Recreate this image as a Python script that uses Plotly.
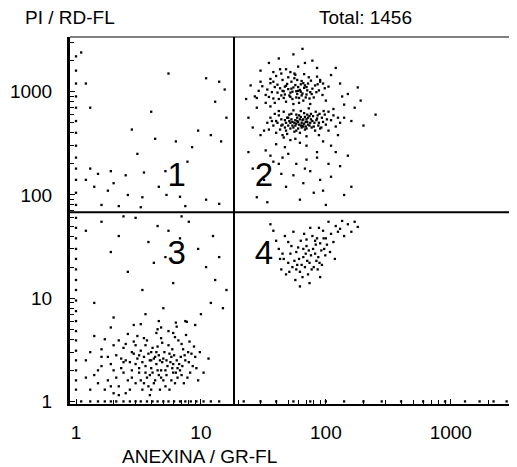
import plotly.graph_objects as go

# ---- data (ANEXINA / GR-FL  vs  PI / RD-FL) ----
q2_upper = [(34,1050),(41,980),(47,1120),(52,890),(58,1010),(63,1180),(45,1300),(38,860),(55,760),(70,940),
(29,1020),(36,1210),(44,920),(50,1060),(61,870),(67,1090),(75,990),(82,1150),(40,1420),(48,800),
(53,1250),(59,950),(66,820),(72,1200),(88,1030),(33,930),(39,1110),(46,1010),(51,920),(57,1160),
(62,1040),(69,880),(78,1070),(94,930),(43,1080),(49,1190),(54,1000),(60,1110),(65,960),(71,1030),
(37,990),(42,850),(56,1350),(64,1270),(80,880),(86,1180),(31,1130),(35,890),(47,940),(53,1070),
(58,880),(63,1000),(68,1150),(74,860),(98,1080),(44,1500),(50,1380),(57,1460),(39,780),(61,780),
(45,1020),(48,1140),(52,980),(55,1100),(60,1020),(66,1210),(70,1110),(76,1280),(84,990),(105,1120),
(41,1170),(36,1330),(59,1300),(73,1380),(90,1250),(33,780),(64,920),(77,950),(46,870),(54,850),
(30,1250),(43,1650),(52,1550),(67,1480),(85,1400),(38,1250),(95,1200),(28,870)]

q2_lower = [(40,520),(45,480),(50,560),(55,450),(60,510),(65,470),(70,540),(48,420),(53,610),(58,490),
(63,570),(68,430),(75,500),(80,460),(85,550),(42,590),(47,450),(52,500),(57,530),(62,400),
(67,620),(72,480),(78,520),(90,440),(95,510),(38,470),(44,540),(49,390),(54,470),(59,560),
(64,500),(69,460),(74,580),(82,420),(100,480),(36,560),(43,430),(51,520),(56,410),(61,480),
(66,540),(71,510),(77,450),(86,590),(110,530),(46,640),(55,660),(63,650),(73,690),(83,640),
(41,500),(50,470),(57,470),(60,440),(65,530),(70,440),(76,610),(88,500),(120,460),(35,430),
(39,610),(45,380),(52,440),(58,600),(62,540),(68,570),(74,470),(81,500),(93,560),(105,420),
(48,500),(53,540),(59,520),(64,450),(67,490),(72,560),(79,580),(87,470),(98,600),(130,500),
(44,470),(49,560),(54,510),(61,590),(66,460),(71,600),(84,530),(92,450),(56,500),(63,470),
(37,520),(42,650),(47,530),(51,600),(69,510),(76,540),(89,610),(102,540),(115,590),(58,420),
(34,500),(46,360),(57,350),(70,370),(88,380),(40,400),(96,650),(125,560)]

q2_halo = [(25,1150),(28,700),(24,560),(30,1600),(32,420),(27,900),(35,1900),(42,2100),(55,2300),(68,1900),
(85,1700),(110,1450),(130,1200),(150,950),(170,700),(140,560),(125,380),(95,330),(70,300),(52,340),
(40,310),(33,270),(60,1750),(78,2000),(48,1650),(38,1550),(100,820),(115,680),(160,520),(200,470),
(250,600),(45,230),(85,260),(110,300),(140,750),(180,1100),(120,1700),(65,2600),(30,380),(26,450),
(23,850),(36,720),(90,1300),(75,760),(105,640),(135,900),(190,820),(62,320),(47,290),(56,1500)]

q2_sparse = [(26,180),(32,140),(38,210),(44,160),(50,250),(58,200),(66,130),(75,170),(85,230),(95,110),
(110,150),(130,190),(160,120),(28,95),(36,240),(48,120),(62,90),(80,105),(100,80),(120,260),
(55,155),(70,220),(90,140),(140,100),(24,260),(42,200),(68,180),(105,200),(150,240),(34,85)]

q4_cells = [(38,45),(42,30),(46,24),(50,35),(54,20),(58,28),(62,18),(66,25),(70,32),(74,22),
(78,40),(82,27),(86,19),(90,34),(95,45),(100,38),(48,17),(56,23),(64,21),(72,17),
(76,26),(84,23),(92,29),(60,31),(68,20),(52,27),(44,19),(40,36),(88,48),(110,42),
(120,50),(130,47),(150,52),(170,55),(180,49),(105,55),(97,30),(80,20),(65,16),(57,15),
(53,32),(61,24),(69,27),(73,29),(77,19),(83,33),(87,25),(93,21),(99,26),(63,36),
(47,40),(55,44),(67,42),(75,48),(85,38),(102,33),(115,35),(125,44),(140,40),(108,28),
(59,21),(71,23),(79,30),(89,22),(96,38),(66,30),(58,19),(50,22),(45,27),(36,52),
(135,56),(160,44),(118,24),(74,14),(62,13),(90,16),(82,36),(70,37),(51,18),(43,24)]

q3_dense = [(1.5,2.0),(1.8,1.6),(2.1,2.8),(2.4,1.9),(2.7,2.4),(3.0,1.5),(3.3,3.1),(3.6,2.2),(3.9,1.8),(4.2,2.6),
(4.5,3.4),(4.8,2.0),(5.2,1.4),(5.6,2.9),(6.0,2.3),(6.5,1.7),(7.0,3.6),(7.5,2.5),(8.2,1.9),(9.0,2.7),
(1.3,1.3),(1.6,3.2),(1.9,2.3),(2.2,1.4),(2.5,3.6),(2.8,1.7),(3.1,2.6),(3.4,1.3),(3.7,3.9),(4.0,2.1),
(4.3,1.6),(4.6,2.8),(4.9,3.7),(5.4,2.2),(5.8,1.6),(6.2,4.2),(6.8,2.0),(7.3,1.5),(7.9,3.0),(8.6,2.2),
(1.2,2.5),(1.4,1.8),(1.7,4.0),(2.0,1.2),(2.3,2.1),(2.6,4.5),(2.9,2.9),(3.2,1.9),(3.5,2.7),(3.8,1.4),
(4.1,3.3),(4.4,2.3),(4.7,1.3),(5.0,2.6),(5.5,4.8),(5.9,3.2),(6.3,1.9),(6.9,2.7),(7.6,4.4),(8.8,3.4),
(1.5,1.5),(1.8,2.7),(2.1,1.7),(2.4,3.3),(2.7,1.3),(3.0,2.3),(3.3,1.6),(3.6,3.5),(3.9,2.5),(4.2,1.5),
(4.5,2.0),(4.8,4.1),(5.3,1.8),(5.7,2.4),(6.1,2.8),(6.6,3.9),(7.1,2.2),(7.8,1.7),(8.4,2.9),(9.5,1.6),
(1.3,3.0),(1.6,2.2),(1.9,1.4),(2.2,3.9),(2.5,2.5),(2.8,2.0),(3.1,4.3),(3.4,2.4),(3.7,1.7),(4.0,3.0),
(4.3,2.7),(4.6,1.8),(4.9,2.4),(5.1,3.0),(5.6,1.3),(6.0,1.9),(6.4,2.5),(7.2,3.2),(8.0,2.4),(9.2,2.1),
(1.4,4.3),(1.7,1.3),(2.0,3.5),(2.3,2.6),(2.6,1.6),(2.9,3.8),(3.2,2.8),(3.5,1.5),(3.8,2.9),(4.1,1.9),
(4.4,4.6),(4.7,2.5),(5.2,2.0),(5.8,2.7),(6.2,1.5),(6.7,2.3),(7.4,2.8),(8.1,3.8),(1.2,1.7),(2.5,1.2),
(3.0,3.5),(3.5,4.1),(4.0,1.3),(4.5,5.0),(5.0,1.6),(5.5,3.5),(6.0,4.6),(6.5,2.1),(7.0,1.8),(1.6,2.7),
(2.0,2.0),(2.4,2.4),(2.8,3.0),(3.2,2.1),(3.6,1.9),(4.0,2.5),(4.4,3.0),(4.8,1.7),(5.3,2.5),(5.9,2.1),
(1.9,5.2),(3.3,5.6),(4.6,6.0),(6.4,5.3),(7.7,5.9),(9.8,3.0),(10.5,1.9),(11.5,2.6),(2.2,1.15),(3.9,1.15)]

q3_sparse = [(1.6,55),(2.2,40),(3.0,60),(3.8,35),(4.5,50),(5.5,45),(6.8,38),(8.0,55),(9.5,30),(11,20),
(13,15),(15,8),(14,25),(12,9),(10,7),(1.9,28),(2.6,18),(3.4,12),(4.2,22),(5.0,8),
(6.0,14),(7.5,6.0),(9.0,5.5),(1.4,9),(2.0,6.5),(2.9,5.5),(3.6,7),(4.8,5.2),(6.3,5.8),(16,12),
(12.5,40),(7.0,62),(5.2,25),(2.4,62),(1.2,45)]

q1_cells = [(1.1,2400),(1.2,1200),(1.3,700),(5.5,1500),(11,1350),(14,1250),(15.5,1050),(13,800),(4.0,640),
(9.5,420),(12,380),(14.5,330),(16,560),(2.8,430),(4.3,350),(6.3,330),(8.5,290),(3.1,250),(7.8,210),
(1.3,180),(1.5,160),(1.9,170),(2.5,155),(3.5,165),(5.2,170),(1.4,120),(1.8,110),(2.6,100),(3.4,95),
(4.6,120),(5.3,100),(6.8,96),(1.6,80),(2.2,78),(3.3,76),(7.5,78),(11,90),(14,82),(1.2,140),(2.0,130)]

bottom_row = [1.1,1.3,1.5,1.7,1.9,2.1,2.4,2.7,3.0,3.3,3.7,4.1,4.5,5.0,5.5,6.1,6.8,7.5,8.3,9.2,
10.5,12,14,22,30,40,55,75,100,140,200,280,400,600,900,1300,1700,2200,2800]
left_col = [1.3,1.6,2.0,2.5,3.1,3.9,4.8,6,7.5,9.5,12,15,19,24,30,38,48,60,80,105,140,180,230,300,
400,520,700,900,1200,1600,2200]

gate_x = 18.4     # vertical quadrant threshold (GR-FL)
gate_y = 68       # horizontal quadrant threshold (RD-FL)
axis_lo = 0.85
axis_hi = 4000

quad_labels = ["1", "2", "3", "4"]
quad_x = [6.4, 32, 6.4, 32]
quad_y = [146, 146, 25.6, 25.6]

tick_vals = [1, 10, 100, 1000]
tick_text = ["1", "10", "100", "1000"]

# ---- build ----
xs, ys = [], []
for grp in (q2_upper, q2_lower, q2_halo, q2_sparse, q4_cells, q3_dense, q3_sparse, q1_cells):
    for a, b in grp:
        xs.append(a); ys.append(b)
for a in bottom_row:
    xs.append(a); ys.append(1)
for b in left_col:
    xs.append(1); ys.append(b)

fig = go.Figure()
fig.add_trace(go.Scatter(x=xs, y=ys, mode="markers",
                         marker=dict(symbol="square", size=2.3, color="black", line=dict(width=0)),
                         hoverinfo="skip"))
fig.add_trace(go.Scatter(x=[gate_x, gate_x], y=[axis_lo, axis_hi], mode="lines",
                         line=dict(color="black", width=2), hoverinfo="skip"))
fig.add_trace(go.Scatter(x=[axis_lo, axis_hi], y=[gate_y, gate_y], mode="lines",
                         line=dict(color="black", width=2), hoverinfo="skip"))
fig.add_trace(go.Scatter(x=quad_x, y=quad_y, mode="text", text=quad_labels,
                         textfont=dict(family="Liberation Sans, Arial", size=33, color="black"),
                         textposition="middle center", hoverinfo="skip"))

font = dict(family="Liberation Sans, Arial", size=19, color="black")
fig.update_layout(
    width=509, height=459,
    margin=dict(l=62, r=0, t=29, b=63),
    paper_bgcolor="white", plot_bgcolor="white",
    showlegend=False,
    font=font,
    xaxis=dict(type="log", range=[-0.048, 3.53], showgrid=False, zeroline=False,
               tickvals=tick_vals, ticktext=tick_text, ticks="inside", ticklen=5,
               tickcolor="black", showline=True, linecolor="black", linewidth=2,
               mirror=False, ticklabelstandoff=10,
               minor=dict(ticks="inside", ticklen=4, tickcolor="black", dtick="D1", showgrid=False)),
    yaxis=dict(type="log", range=[-0.025, 3.53], showgrid=False, zeroline=False,
               tickvals=tick_vals, ticktext=tick_text, ticks="inside", ticklen=5,
               tickcolor="black", showline=True, linecolor="black", linewidth=3,
               mirror=False, ticklabelstandoff=11,
               minor=dict(ticks="inside", ticklen=4, tickcolor="black", dtick="D1", showgrid=False)),
    shapes=[dict(type="line", xref="paper", yref="paper", x0=0, x1=1, y0=1, y1=1,
                 line=dict(color="black", width=1))],
    annotations=[
        dict(text="PI / RD-FL", xref="paper", yref="paper", x=0.0, y=1.054,
             showarrow=False, xanchor="center", yanchor="middle", font=font),
        dict(text="Total: 1456", xref="paper", yref="paper", x=0.66, y=1.052,
             showarrow=False, xanchor="center", yanchor="middle", font=font),
        dict(text="ANEXINA / GR-FL", xref="paper", yref="paper", x=0.289, y=-0.142,
             showarrow=False, xanchor="center", yanchor="middle", font=font),
    ],
)

fig.write_html("out.html")
